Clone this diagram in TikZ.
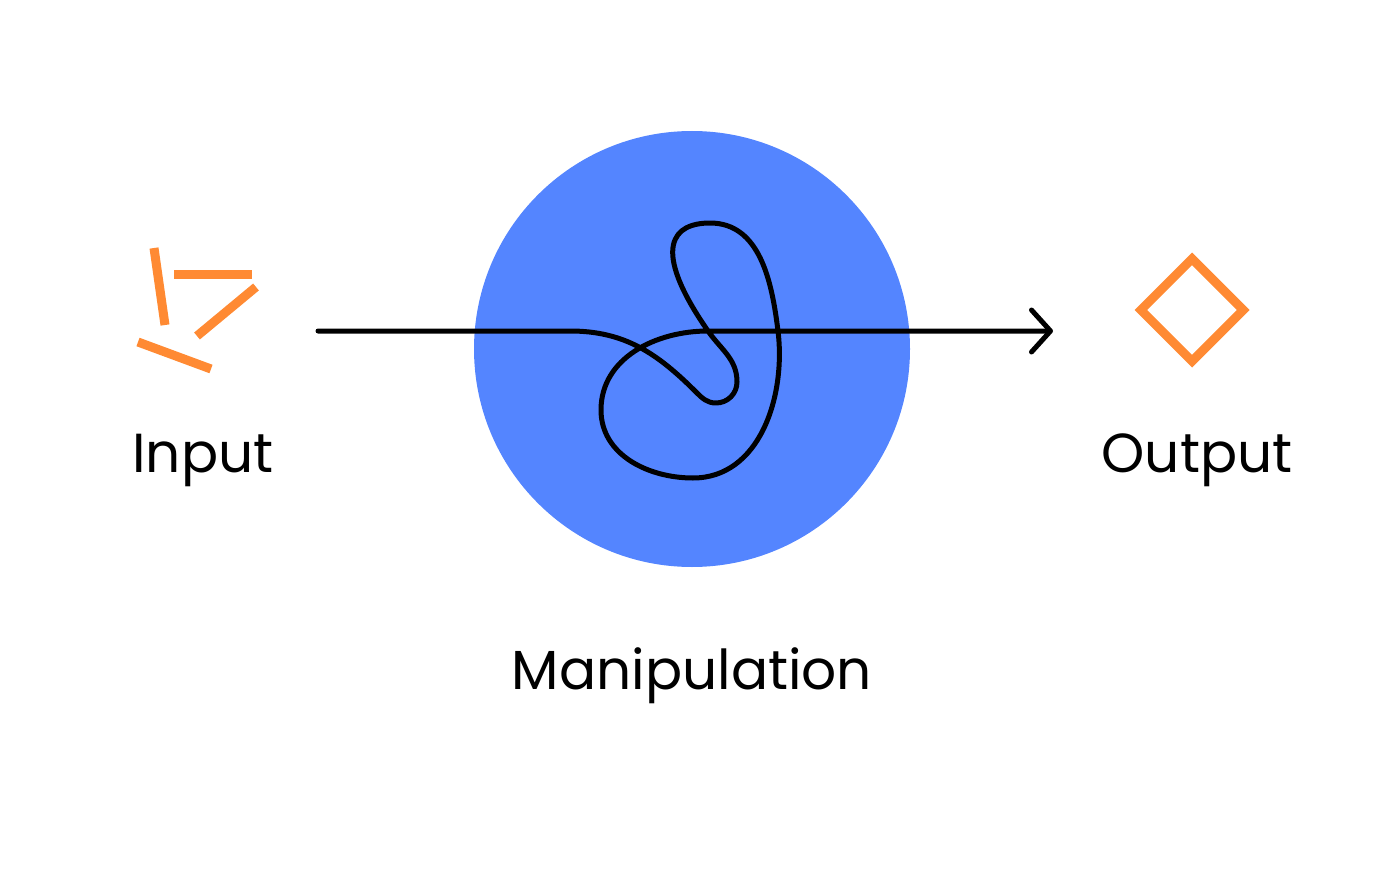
\documentclass[tikz,border=0pt]{standalone}
\usepackage{fontspec}
\setmainfont{Poppins}
\usetikzlibrary{arrows.meta,shapes.geometric}
\definecolor{manipblue}{RGB}{84,133,255}
\definecolor{piece}{RGB}{255,138,51}
\tikzset{
  stick/.style={draw=piece, line width=9pt},
  label/.style={font=\fontsize{55}{60}\selectfont, anchor=base, inner sep=0pt},
  knot/.style={line width=5pt, line cap=round, line join=round}
}
\begin{document}
\begin{tikzpicture}[x=1pt,y=-1pt]
  \useasboundingbox (0,0) rectangle (1400,880);
  \node[circle, fill=manipblue, minimum size=436pt, inner sep=0pt] (manip) at (692,349) {};
  \draw[stick] (154,248) -- (165,325);
  \draw[stick] (174,274) -- (252,274);
  \draw[stick] (256,287) -- (197,336);
  \draw[stick] (138,342) -- (211,369);
  \node[diamond, draw=piece, line width=9pt, minimum size=106pt, inner sep=0pt] (out) at (1192,310) {};
  \node[label] (inlabel) at (203,472) {Input};
  \node[label] (outlabel) at (1197,472) {Output};
  \node[label] (maniplabel) at (692,689) {Manipulation};
  \coordinate (start) at (318,331);
  \coordinate (end) at (1053,331);
  \draw[knot, -{Straight Barb[length=19pt, width=42pt, round]}] (start) -- (570,331)
    to[out=0, in=135] (696,392) to[out=-45, in=180] (716,403)
    to[out=0, in=-90] (737,382) to[out=90, in=-55] (708,331)
    .. controls (649,246) and (674,223) .. (710,223)
    to[out=0, in=97] (778,331) to[out=-83, in=0] (693,478)
    to[out=180, in=-90] (601,410) to[out=90, in=180] (708,331)
    -- (end);
\end{tikzpicture}
\end{document}
